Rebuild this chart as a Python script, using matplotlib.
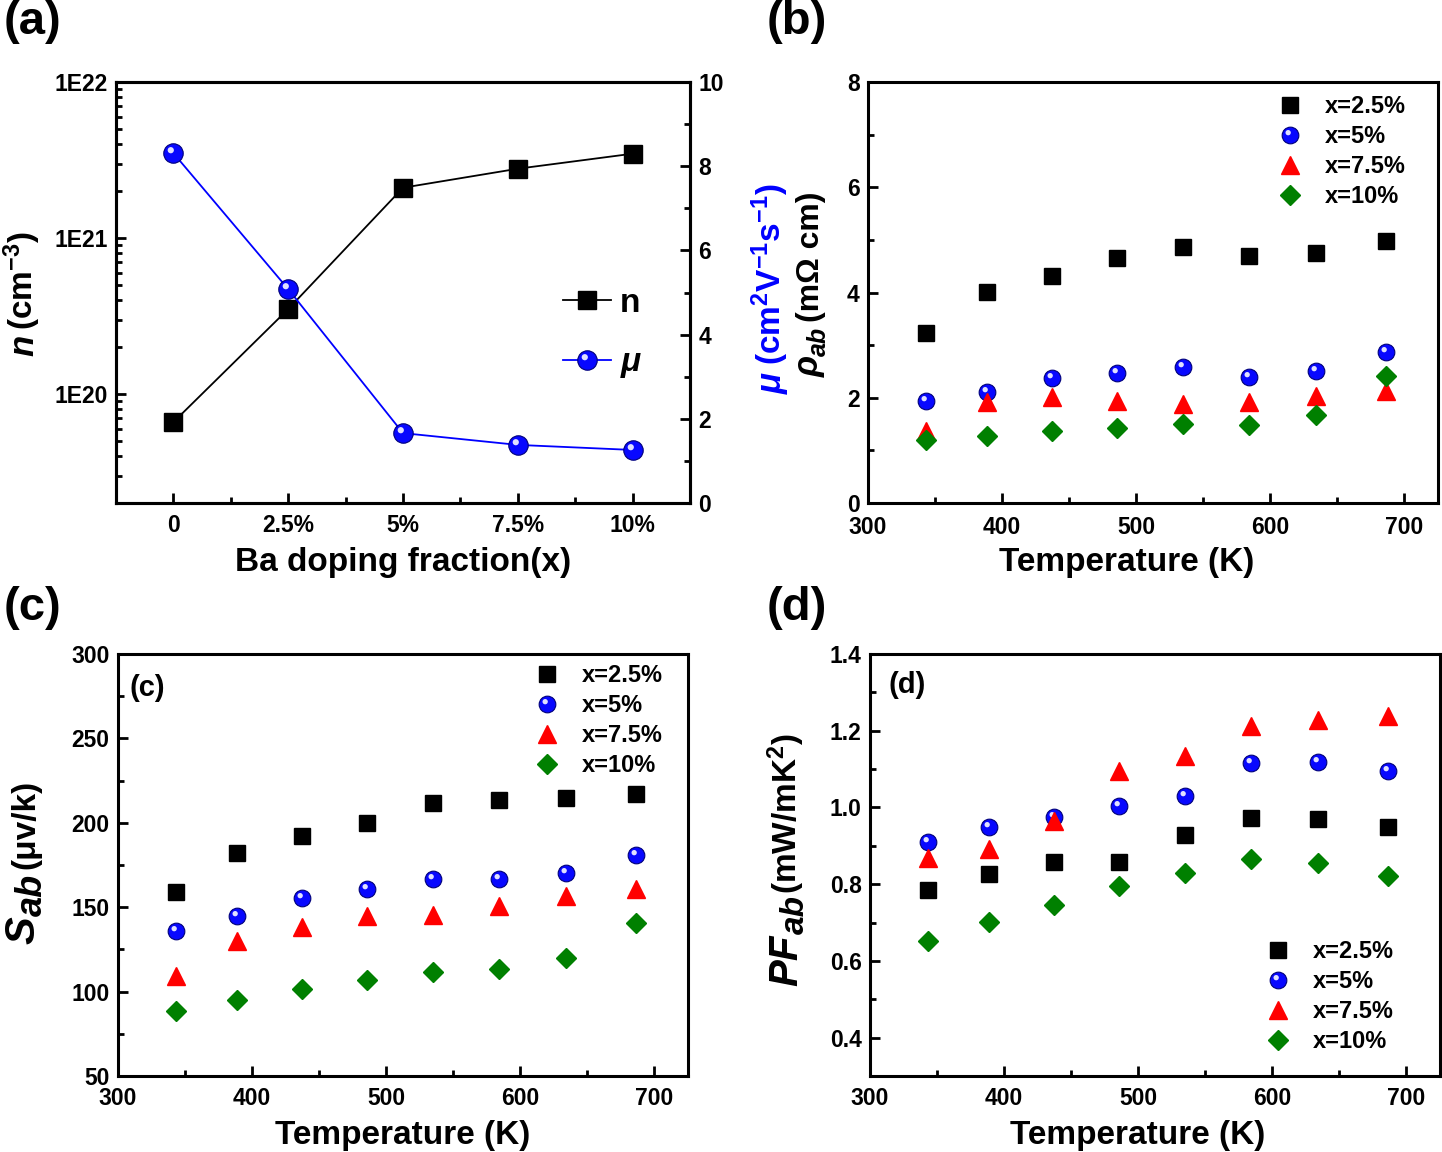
import matplotlib
matplotlib.use('Agg')
import numpy as np
import matplotlib.pyplot as plt
from matplotlib.path import Path
from matplotlib.ticker import MultipleLocator, FixedLocator, LogLocator, NullFormatter, FixedFormatter

# ---------------- data ----------------
doping_labels = ['0', '2.5%', '5%', '7.5%', '10%']
n_values = [6.6e19, 3.5e20, 2.1e21, 2.78e21, 3.47e21]
mu_values = [8.31, 5.08, 1.66, 1.38, 1.26]

temps = [343, 389, 437, 486, 535, 584, 634, 686]
series_labels = ['x=2.5%', 'x=5%', 'x=7.5%', 'x=10%']

rho_25 = [3.23, 4.01, 4.32, 4.66, 4.87, 4.70, 4.75, 4.98]
rho_5 = [1.94, 2.11, 2.38, 2.47, 2.59, 2.40, 2.51, 2.87]
rho_75 = [1.37, 1.92, 2.02, 1.94, 1.88, 1.92, 2.03, 2.13]
rho_10 = [1.20, 1.27, 1.37, 1.43, 1.50, 1.48, 1.67, 2.41]

s_25 = [159, 182, 192, 200, 212, 213.5, 214.7, 217]
s_5 = [136, 145, 155.5, 161, 167, 166.7, 170, 181]
s_75 = [109, 130, 138, 145, 145.4, 151, 156.6, 160.8]
s_10 = [88.5, 95, 101.5, 107, 111.6, 113.4, 120, 140.6]

pf_25 = [0.784, 0.826, 0.858, 0.858, 0.928, 0.973, 0.970, 0.950]
pf_5 = [0.910, 0.949, 0.974, 1.004, 1.031, 1.117, 1.118, 1.096]
pf_75 = [0.867, 0.893, 0.965, 1.096, 1.135, 1.213, 1.228, 1.238]
pf_10 = [0.652, 0.701, 0.747, 0.795, 0.830, 0.865, 0.854, 0.821]

# ---------------- style ----------------
plt.rcParams['font.family'] = ['Liberation Sans', 'DejaVu Sans']
plt.rcParams['font.weight'] = 'bold'
plt.rcParams['axes.labelweight'] = 'bold'
plt.rcParams['mathtext.fontset'] = 'custom'
plt.rcParams['mathtext.rm'] = 'Liberation Sans:bold'
plt.rcParams['mathtext.it'] = 'Liberation Sans:italic:bold'
plt.rcParams['mathtext.bf'] = 'Liberation Sans:bold'
plt.rcParams['mathtext.sf'] = 'Liberation Sans:bold'
plt.rcParams['axes.linewidth'] = 2.2

TICK_FS = 16.5
LAB_FS = 24
W, H = 1442.0, 1152.0

# highlight marker for the "sphere" look
_c = Path.unit_circle()
_hv = np.vstack([_c.vertices * 0.32 + np.array([-0.28, 0.34]), [[-1, -1], [1, 1]]])
_hc = np.concatenate([_c.codes, [Path.MOVETO, Path.MOVETO]])
HILITE = Path(_hv, _hc)

fig = plt.figure(figsize=(14.42, 11.52), dpi=100)

def frac(l, r, t, b):
    return [l / W, 1 - b / H, (r - l) / W, (b - t) / H]

def style_axis(ax, xpad=8):
    ax.tick_params(which='both', direction='in', width=2, labelsize=TICK_FS, top=False, right=False)
    ax.tick_params(which='major', length=7)
    ax.tick_params(which='minor', length=4)
    ax.tick_params(axis='x', pad=xpad)
    ax.tick_params(axis='y', pad=6)
    for lab in ax.get_xticklabels() + ax.get_yticklabels():
        lab.set_fontweight('bold')

def blue_sphere(ax, x, y, ms, **kw):
    h1, = ax.plot(x, y, 'o', ls='none', color='#0808ff', mec='#00007a', mew=0.8, ms=ms, **kw)
    h2, = ax.plot(x, y, ls='none', marker=HILITE, color='#e0e0ff', mew=0, ms=ms, **kw)
    return (h1, h2)

# ---------------- (a) ----------------
axa = fig.add_axes(frac(116, 690, 82, 503))
xpos = np.arange(len(doping_labels))
ln_n, = axa.plot(xpos, n_values, '-', color='black', lw=1.3, marker='s', ms=13, zorder=3)
axa.set_yscale('log')
axa.set_ylim(2.0e19, 1e22)
axa.set_xlim(-0.5, 4.5)
axa.xaxis.set_major_locator(FixedLocator(xpos))
axa.xaxis.set_major_formatter(FixedFormatter(doping_labels))
axa.xaxis.set_minor_locator(FixedLocator(xpos[:-1] + 0.5))
axa.yaxis.set_major_locator(FixedLocator([1e20, 1e21, 1e22]))
axa.yaxis.set_major_formatter(FixedFormatter(['1E20', '1E21', '1E22']))
axa.yaxis.set_minor_locator(LogLocator(base=10, subs=np.arange(2, 10)))
axa.yaxis.set_minor_formatter(NullFormatter())
style_axis(axa)
axa.set_xlabel('Ba doping fraction(x)', fontsize=LAB_FS, fontweight='bold')
axa.xaxis.set_label_coords(0.5, -0.105)

axa2 = axa.twinx()
ln_mu, = axa2.plot(xpos, mu_values, '-', color='#0000ff', lw=1.3, zorder=3)
sph = blue_sphere(axa2, xpos, mu_values, 14, zorder=4)
axa2.set_ylim(0, 10)
axa2.yaxis.set_major_locator(MultipleLocator(2))
axa2.yaxis.set_minor_locator(MultipleLocator(1))
axa2.tick_params(which='both', direction='in', width=2, labelsize=TICK_FS, right=True, left=False, pad=6)
axa2.tick_params(which='major', length=7)
axa2.tick_params(which='minor', length=4)
for lab in axa2.get_yticklabels():
    lab.set_fontweight('bold')

axa2.legend([ln_n, (ln_mu, sph[0], sph[1])], ['n', r'$\mu$'],
            loc='upper left', bbox_to_anchor=((563 - 116) / 574.0, (503 - 288) / 421.0),
            frameon=False, labelspacing=0.85, handlelength=1.45, handletextpad=0.25,
            borderpad=0, borderaxespad=0, prop={'weight': 'bold', 'size': 24})

# ---------------- generic T panels ----------------
def t_panel(box, series, ylim, ymaj, ymin, leg_anchor, xlab_x, inner=None, xpad=8):
    ax = fig.add_axes(frac(*box))
    a, b, c, d = series
    hs = ax.plot(temps, a, 's', color='black', ms=11, ls='none')[0]
    hb = blue_sphere(ax, temps, b, 12)
    ht = ax.plot(temps, c, '^', color='#ff0000', ms=13, ls='none')[0]
    hd = ax.plot(temps, d, 'D', color='#008000', ms=10, ls='none')[0]
    ax.set_xlim(300, 725)
    ax.set_ylim(*ylim)
    ax.xaxis.set_major_locator(MultipleLocator(100))
    ax.xaxis.set_minor_locator(MultipleLocator(50))
    ax.yaxis.set_major_locator(MultipleLocator(ymaj))
    ax.yaxis.set_minor_locator(MultipleLocator(ymin))
    style_axis(ax, xpad)
    ax.set_xlabel('Temperature (K)', fontsize=LAB_FS, fontweight='bold')
    ax.xaxis.set_label_coords(xlab_x, -0.105)
    ax.legend([hs, hb, ht, hd], series_labels, loc='upper left', bbox_to_anchor=leg_anchor,
              frameon=False, prop={'weight': 'bold', 'size': 17}, labelspacing=0.30,
              handlelength=1.0, handletextpad=1.0, borderpad=0, borderaxespad=0)
    if inner:
        ax.text(inner[0], inner[1], inner[2], transform=ax.transAxes, fontsize=21,
                fontweight='bold', va='center', ha='left')
    return ax

axb = t_panel((868, 1438, 82, 503), (rho_25, rho_5, rho_75, rho_10), (0, 8), 2, 1,
              ((1278 - 868) / 570.0, (503 - 95) / 421.0), 0.453, xpad=9.5)
axc = t_panel((118, 688, 654, 1076), (s_25, s_5, s_75, s_10), (50, 300), 50, 25,
              ((535 - 118) / 570.0, (1076 - 664) / 422.0), 0.5, inner=(0.021, 0.919, '(c)'))
axd = t_panel((870, 1440, 654, 1076), (pf_25, pf_5, pf_75, pf_10), (0.3, 1.4), 0.2, 0.1,
              ((1266 - 870) / 570.0, (1076 - 940) / 422.0), 0.47, inner=(0.032, 0.927, '(d)'))
axd.yaxis.set_major_locator(FixedLocator([0.4, 0.6, 0.8, 1.0, 1.2, 1.4]))
axd.yaxis.set_major_formatter(FixedFormatter(['0.4', '0.6', '0.8', '1.0', '1.2', '1.4']))
for lab in axd.get_yticklabels():
    lab.set_fontweight('bold')

# ---------------- rotated y labels (symbol + enlarged subscript + unit) ----------------
renderer = fig.canvas.get_renderer()

def stacked_label(parts, x_base, y_bottom, color='black'):
    """parts: (text, size, italic, baseline shift px, gap px after); drawn bottom -> top."""
    y = H - y_bottom
    for txt, size, italic, dx, gap in parts:
        t = fig.text((x_base + dx) / W, y / H, txt, rotation=90, rotation_mode='anchor',
                     ha='left', va='baseline', fontsize=size, fontweight='bold',
                     fontstyle='italic' if italic else 'normal', color=color)
        bb = t.get_window_extent(renderer)
        y += bb.height + gap

stacked_label([('n', 25, True, 0, 5), (r'(cm$^{-3}$)', LAB_FS, False, 0, 0)], 33, 356)
stacked_label([(r'$\mu$', 25, False, 0, 6), (r'(cm$^{2}$V$^{-1}$s$^{-1}$)', LAB_FS, False, 0, 0)],
              781, 394, color='#0000ff')
stacked_label([('ρ', 25, True, 0, 0), ('ab', 18, True, 7, 5), ('(mΩ cm)', 23, False, 0, 0)], 819, 377)
stacked_label([('S', 30, True, 0, 0), ('ab', 26, True, 8, 5), ('(μv/k)', LAB_FS, False, 0, 0)], 34, 944)
stacked_label([('PF', 29, True, 0, 0), ('ab', 24, True, 7, 2), (r'(mW/mK$^{2}$)', LAB_FS, False, 0, 0)], 797, 986)

# panel letters
for xx, yy, t in [(4, 22, '(a)'), (767, 22, '(b)'), (4, 608, '(c)'), (767, 608, '(d)')]:
    fig.text(xx / W, 1 - yy / H, t, fontsize=34, fontweight='bold', va='center', ha='left')

fig.savefig('out.png', dpi=100)
